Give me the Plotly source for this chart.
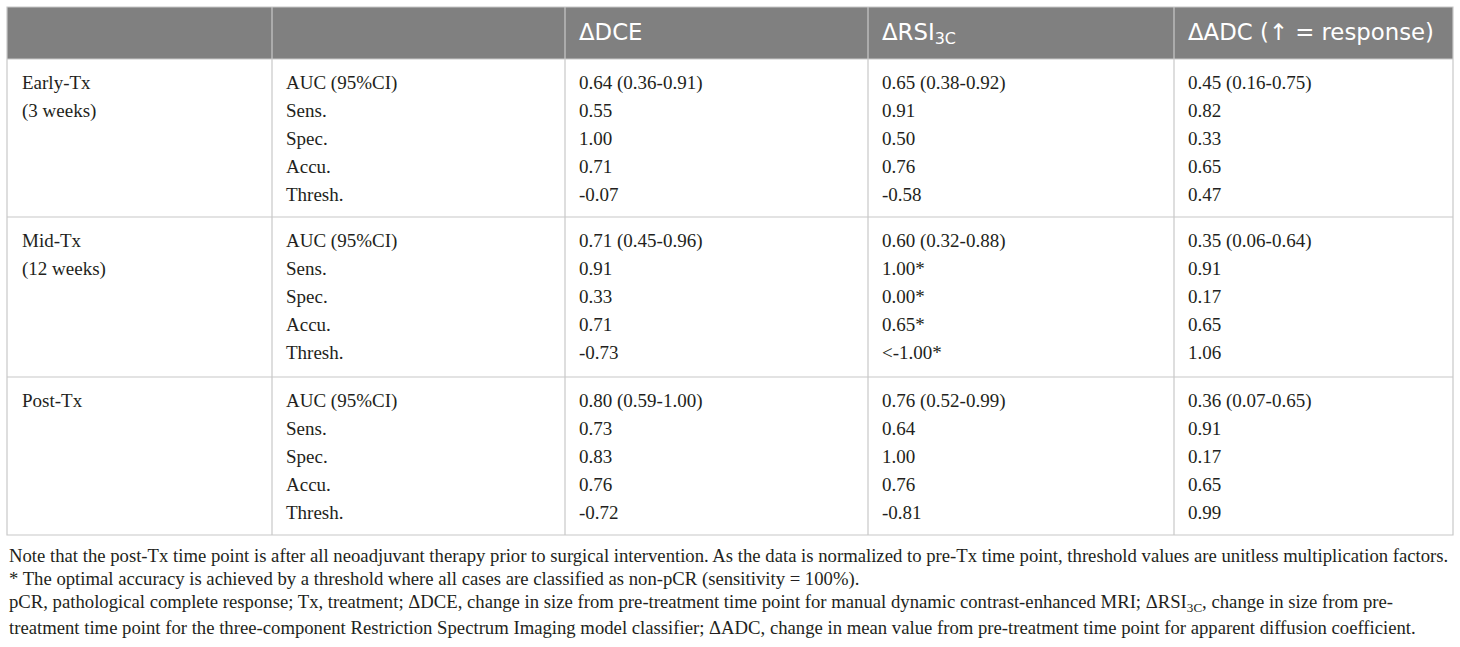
import plotly.graph_objects as go

# table content
columns = ["", "", "ΔDCE", "ΔRSI<sub>3C</sub>", "ΔADC (↑ = response)"]
groups = [["Early-Tx", "(3 weeks)"], ["Mid-Tx", "(12 weeks)"], ["Post-Tx"]]
metrics = ["AUC (95%CI)", "Sens.", "Spec.", "Accu.", "Thresh."]

dce = [
    ["0.64 (0.36-0.91)", "0.55", "1.00", "0.71", "-0.07"],
    ["0.71 (0.45-0.96)", "0.91", "0.33", "0.71", "-0.73"],
    ["0.80 (0.59-1.00)", "0.73", "0.83", "0.76", "-0.72"],
]
rsi = [
    ["0.65 (0.38-0.92)", "0.91", "0.50", "0.76", "-0.58"],
    ["0.60 (0.32-0.88)", "1.00*", "0.00*", "0.65*", "&lt;-1.00*"],
    ["0.76 (0.52-0.99)", "0.64", "1.00", "0.76", "-0.81"],
]
adc = [
    ["0.45 (0.16-0.75)", "0.82", "0.33", "0.65", "0.47"],
    ["0.35 (0.06-0.64)", "0.91", "0.17", "0.65", "1.06"],
    ["0.36 (0.07-0.65)", "0.91", "0.17", "0.65", "0.99"],
]

notes = [
    "Note that the post-Tx time point is after all neoadjuvant therapy prior to surgical intervention. As the data is normalized to pre-Tx time point, threshold values are unitless multiplication factors.",
    "* The optimal accuracy is achieved by a threshold where all cases are classified as non-pCR (sensitivity = 100%).",
    "pCR, pathological complete response; Tx, treatment; ΔDCE, change in size from pre-treatment time point for manual dynamic contrast-enhanced MRI; ΔRSI<sub>3C</sub>, change in size from pre-",
    "treatment time point for the three-component Restriction Spectrum Imaging model classifier; ΔADC, change in mean value from pre-treatment time point for apparent diffusion coefficient.",
]

W, H = 1460, 647
LEFT, RIGHT, TOP = 7, 1453, 7
HEAD_BOT = 59
col_lines = [272, 565, 868, 1174]
col_text_x = [22, 286, 579, 882, 1188]
sec_tops = [59, 217, 377]
BOTTOM = 535
ROW_STEP = 28
FIRST_OFF = 25

LINE_C = "#c8c8c8"
HEAD_C = "#808080"
TEXT_C = "#231f20"
SERIF = "Liberation Serif"
SANS = "DejaVu Sans"

fig = go.Figure()

# body text
xs, ys, ts = [], [], []
for g, top in enumerate(sec_tops):
    for i, line in enumerate(groups[g]):
        xs.append(col_text_x[0]); ys.append(top + FIRST_OFF + i * ROW_STEP); ts.append(line)
    for i, m in enumerate(metrics):
        y = top + FIRST_OFF + i * ROW_STEP
        for c, vals in zip(col_text_x[1:], [metrics, dce[g], rsi[g], adc[g]]):
            xs.append(c); ys.append(y); ts.append(vals[i])

fig.add_trace(go.Scatter(
    x=xs, y=ys, text=ts, mode="text", textposition="middle right",
    textfont=dict(family=SERIF, size=19, color=TEXT_C),
    hoverinfo="skip", showlegend=False, cliponaxis=False,
))

# header text
fig.add_trace(go.Scatter(
    x=col_text_x[2:], y=[34] * 3, text=columns[2:], mode="text",
    textposition="middle right",
    textfont=dict(family=SANS, size=22.8, color="white"),
    hoverinfo="skip", showlegend=False, cliponaxis=False,
))

shapes = [
    dict(type="rect", x0=LEFT, x1=RIGHT, y0=TOP, y1=HEAD_BOT, fillcolor=HEAD_C,
         line=dict(width=0), layer="below"),
    dict(type="rect", x0=LEFT, x1=RIGHT, y0=TOP, y1=BOTTOM,
         line=dict(color=LINE_C, width=1.2), layer="below"),
]
for x in col_lines:
    shapes.append(dict(type="line", x0=x, x1=x, y0=TOP, y1=BOTTOM,
                       line=dict(color=LINE_C, width=1.2), layer="below"))
for y in sec_tops[1:] + [HEAD_BOT]:
    shapes.append(dict(type="line", x0=LEFT, x1=RIGHT, y0=y, y1=y,
                       line=dict(color=LINE_C, width=1.2), layer="below"))

annotations = []
for i, n in enumerate(notes):
    annotations.append(dict(
        x=LEFT, y=555 + i * 24, xref="x", yref="y", text=n, showarrow=False,
        xanchor="left", yanchor="middle",
        font=dict(family=SERIF, size=18.7, color=TEXT_C),
    ))

fig.update_layout(
    width=W, height=H, margin=dict(l=0, r=0, t=0, b=0),
    paper_bgcolor="white", plot_bgcolor="white",
    xaxis=dict(range=[0, W], visible=False, fixedrange=True),
    yaxis=dict(range=[H, 0], visible=False, fixedrange=True),
    shapes=shapes, annotations=annotations,
)

fig.write_html("out.html", config={"displayModeBar": False},
               post_script="document.body.style.margin='0';")
